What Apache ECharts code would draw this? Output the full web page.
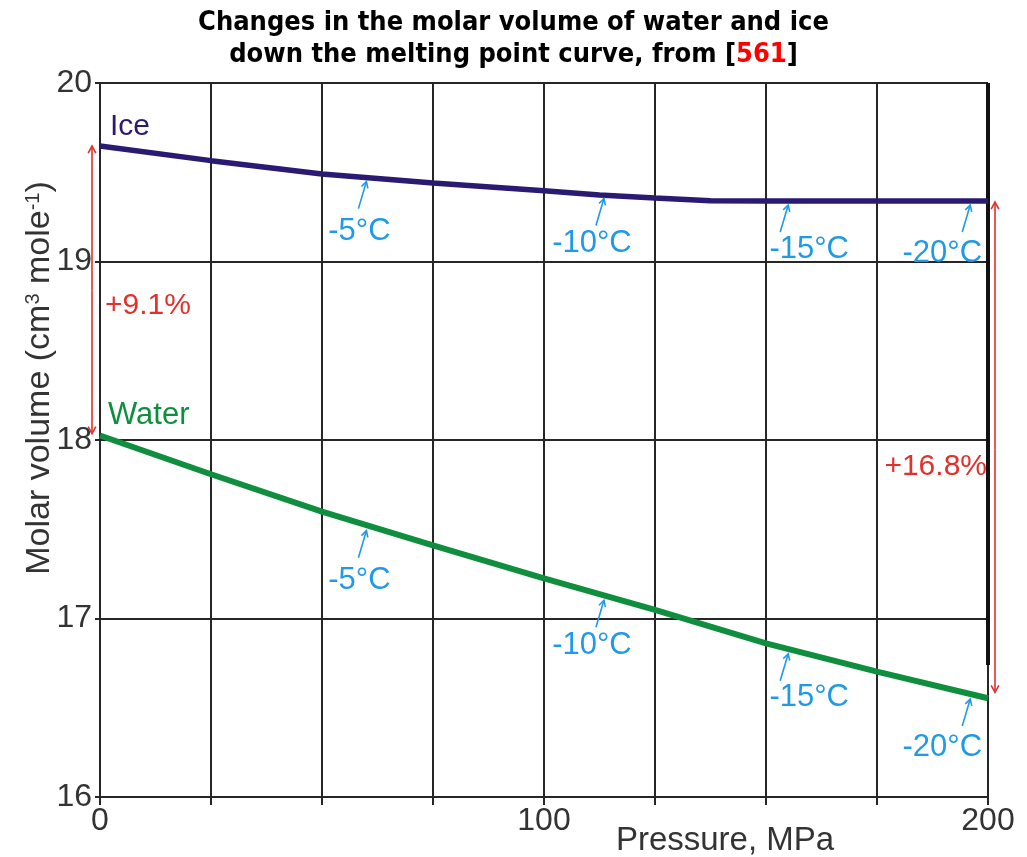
<!DOCTYPE html>
<html>
<head>
<meta charset="utf-8">
<script src="https://cdn.jsdelivr.net/npm/echarts@6/dist/echarts.min.js"></script>
<style>
  html, body { margin: 0; padding: 0; background: #ffffff; }
  #chart { width: 1027px; height: 857px; }
</style>
</head>
<body>
<div id="chart"></div>
<script>
// Molar volume of ice and water along the melting curve
const icePressure = [0, 25, 50, 75, 100, 112.5, 125, 137.5, 150, 175, 200];
const iceVolume   = [19.647, 19.565, 19.49, 19.44, 19.397, 19.373, 19.356, 19.341, 19.339, 19.339, 19.339];

const waterPressure = [0, 25, 50, 75, 100, 125, 150, 175, 200];
const waterVolume   = [18.025, 17.808, 17.599, 17.41, 17.225, 17.048, 16.861, 16.702, 16.553];

// Melting temperatures marked on both curves
const meltLabels   = ['-5°C', '-10°C', '-15°C', '-20°C'];
const meltPressure = [60, 113.5, 155, 196];
const meltIce      = [19.47, 19.375, 19.339, 19.339];
const meltWater    = [17.52, 17.13, 16.83, 16.577];

// Relative volume jump at both ends of the range
const jumpLabels = ['+9.1%', '+16.8%'];

const xTickLabels = [0, 100, 200];

const FONT = "'Liberation Sans', Arial, sans-serif";
const TITLE_FONT = "'DejaVu Sans Condensed', 'DejaVu Sans', sans-serif";
const GRID_COLOR = '#262626';
const ICE_COLOR = '#2b1a72';
const WATER_COLOR = '#0f8f3e';
const TEMP_COLOR = '#1f9ae6';
const JUMP_COLOR = '#e2302c';

const chart = echarts.init(document.getElementById('chart'), null, { renderer: 'canvas' });

const option = {
  backgroundColor: '#ffffff',
  animation: false,
  title: {
    text: 'Changes in the molar volume of water and ice\ndown the melting point curve, from [{r|561}]',
    left: 'center',
    top: 2,
    textStyle: {
      fontFamily: TITLE_FONT,
      fontWeight: 'bold',
      fontSize: 27,
      lineHeight: 32,
      color: '#000000',
      rich: {
        r: { fontFamily: TITLE_FONT, fontWeight: 'bold', fontSize: 27, lineHeight: 32, color: '#ff0000' }
      }
    }
  },
  grid: { left: 100, right: 39, top: 83, bottom: 60, containLabel: false, outerBoundsMode: 'none' },
  xAxis: {
    type: 'value',
    min: 0, max: 200, interval: 25,
    name: 'Pressure, MPa',
    nameLocation: 'middle',
    nameGap: 27,
    nameMoveOverlap: false,
    nameTextStyle: { fontFamily: FONT, fontSize: 33, color: '#333333', padding: [0, 0, 0, 362] },
    axisLine: { show: true, lineStyle: { color: GRID_COLOR, width: 2 } },
    axisTick: { show: true, length: 8, lineStyle: { color: GRID_COLOR, width: 2 } },
    axisLabel: {
      fontFamily: FONT, fontSize: 32, color: '#333333', margin: 8,
      showMinLabel: true, showMaxLabel: true,
      formatter: v => (xTickLabels.indexOf(v) >= 0 ? String(v) : '')
    },
    splitLine: { show: true, lineStyle: { color: GRID_COLOR, width: 2 } }
  },
  yAxis: {
    type: 'value',
    min: 16, max: 20, interval: 1,
    name: 'Molar volume (cm{sup|3} mole{sup|-1})',
    nameLocation: 'middle',
    nameGap: 43,
    nameMoveOverlap: false,
    nameTextStyle: {
      fontFamily: FONT, fontSize: 34, color: '#333333', padding: [0, 0, 0, 124],
      rich: { sup: { fontFamily: FONT, fontSize: 20, color: '#333333', verticalAlign: 'top' } }
    },
    axisLine: { show: true, lineStyle: { color: GRID_COLOR, width: 2 } },
    axisTick: { show: true, length: 5, lineStyle: { color: GRID_COLOR, width: 2 } },
    axisLabel: { fontFamily: FONT, fontSize: 32, color: '#333333', margin: 8 },
    splitLine: { show: true, lineStyle: { color: GRID_COLOR, width: 2 } }
  },
  series: [
    {
      name: 'Ice',
      type: 'line',
      data: icePressure.map((p, i) => [p, iceVolume[i]]),
      showSymbol: false,
      smooth: false,
      lineStyle: { color: ICE_COLOR, width: 5.5 },
      z: 5
    },
    {
      name: 'Water',
      type: 'line',
      data: waterPressure.map((p, i) => [p, waterVolume[i]]),
      showSymbol: false,
      smooth: false,
      lineStyle: { color: WATER_COLOR, width: 6 },
      z: 5
    }
  ]
};

chart.setOption(option);

// Annotation overlay placed through the chart's own coordinate system
function px(p, v) { return chart.convertToPixel({ gridIndex: 0 }, [p, v]); }

function arrow(x1, y1, x2, y2, color, width, head) {
  // line from (x1,y1) with an open head at (x2,y2)
  const a = Math.atan2(y2 - y1, x2 - x1);
  const h = head || 7, spread = 0.5;
  return [
    { type: 'line', shape: { x1, y1, x2, y2 }, style: { stroke: color, lineWidth: width }, z: 20 },
    {
      type: 'polyline',
      shape: { points: [
        [x2 - h * Math.cos(a - spread), y2 - h * Math.sin(a - spread)],
        [x2, y2],
        [x2 - h * Math.cos(a + spread), y2 - h * Math.sin(a + spread)]
      ] },
      style: { stroke: color, lineWidth: width, fill: null }, z: 20
    }
  ];
}

function text(x, y, str, color, align, size) {
  return {
    type: 'text', x, y, z: 21,
    style: {
      text: str, fill: color, font: (size || 30) + 'px ' + FONT,
      textAlign: align || 'left', textVerticalAlign: 'middle'
    }
  };
}

const g = [];

// thick right frame edge
const rTop = px(200, 20), rLow = px(200, 16.74);
g.push({ type: 'rect', shape: { x: rTop[0] - 2, y: rTop[1], width: 4, height: rLow[1] - rTop[1] },
  style: { fill: '#111111' }, z: 4 });

// curve names
const iceStart = px(0, iceVolume[0]);
const waterStart = px(0, waterVolume[0]);
g.push(text(iceStart[0] + 10, iceStart[1] - 19, 'Ice', ICE_COLOR, 'left', 30));
g.push(text(waterStart[0] + 8, waterStart[1] - 20, 'Water', WATER_COLOR, 'left', 31));

// temperature markers
const labelShift = [[-7, 50], [-12, 45], [21, 44], [-28, 48]];
meltPressure.forEach((p, i) => {
  [meltIce[i], meltWater[i]].forEach((v, k) => {
    const tip = px(p, v);
    const ty = tip[1] + (k === 0 ? 4 : 5);
    g.push(...arrow(tip[0] - 8, ty + 27, tip[0], ty, TEMP_COLOR, 1.6, 7));
    g.push(text(tip[0] + labelShift[i][0], ty + labelShift[i][1], meltLabels[i], TEMP_COLOR, 'center', 31));
  });
});

// left volume-jump arrow (both ends)
const lx = iceStart[0] - 8;
g.push(...arrow(lx, (iceStart[1] + waterStart[1]) / 2, lx, iceStart[1], JUMP_COLOR, 1.6, 8));
g.push(...arrow(lx, (iceStart[1] + waterStart[1]) / 2, lx, waterStart[1] - 2, JUMP_COLOR, 1.6, 8));
g.push(text(iceStart[0] + 5, px(0, 18.75)[1], jumpLabels[0], JUMP_COLOR, 'left', 30));

// right volume-jump arrow (both ends)
const iceEnd = px(200, iceVolume[iceVolume.length - 1]);
const waterEnd = px(200, waterVolume[waterVolume.length - 1]);
const rx = iceEnd[0] + 7;
g.push(...arrow(rx, (iceEnd[1] + waterEnd[1]) / 2, rx, iceEnd[1] + 1, JUMP_COLOR, 1.6, 8));
g.push(...arrow(rx, (iceEnd[1] + waterEnd[1]) / 2, rx, waterEnd[1] - 6, JUMP_COLOR, 1.6, 8));
g.push(text(iceEnd[0] - 1, px(200, 17.85)[1], jumpLabels[1], JUMP_COLOR, 'right', 30));

chart.setOption({ graphic: { elements: g } });
</script>
</body>
</html>
